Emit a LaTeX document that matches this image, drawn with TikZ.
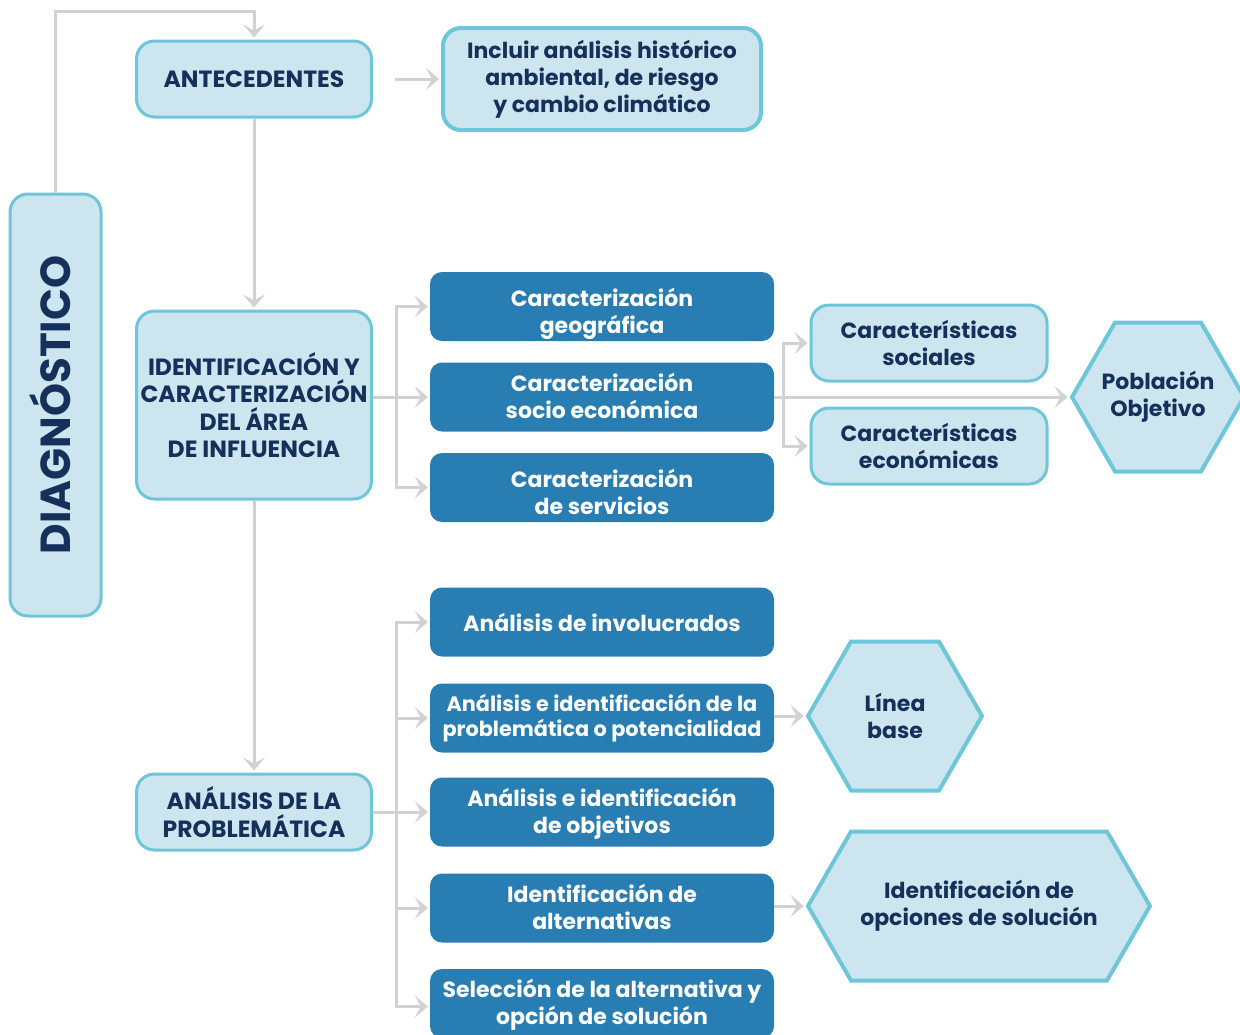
\documentclass[tikz,border=0pt]{standalone}
\usepackage{fontspec}
\setmainfont{Poppins}
\usetikzlibrary{arrows.meta,shapes.symbols}
\definecolor{navy}{HTML}{15305A}
\definecolor{darkfill}{HTML}{287DB3}
\definecolor{lightfill}{HTML}{CDE5EE}
\definecolor{edge}{HTML}{6EC6DA}
\definecolor{grayline}{HTML}{D2D2D4}
\newcommand{\boxfont}{\fontsize{22}{27}\selectfont\bfseries}
\newcommand{\capsfont}{\fontsize{23.5}{27.3}\selectfont\bfseries}
\tikzset{
  lightbox/.style={draw=edge, fill=lightfill, line width=3pt, rounded corners=18pt,
    text=navy, font=\boxfont, align=center, inner sep=0pt},
  darkbox/.style={fill=darkfill, rounded corners=12pt, text=white, font=\boxfont,
    align=center, minimum width=344pt, minimum height=69pt, inner sep=0pt},
  twolines/.style={text height=42pt, text depth=0pt},
  twolow/.style={text height=54pt, text depth=0pt},
  hexbox/.style={signal, signal to=east and west, signal pointer angle=120,
    draw=edge, fill=lightfill, line width=4pt, text=navy, font=\boxfont,
    align=center, minimum height=149pt, inner sep=0pt},
  hextext/.style={text=navy, font=\boxfont, align=center, inner sep=0pt},
  line/.style={draw=grayline, line width=3pt},
  conn/.style={line, -{Stealth[length=13pt,width=22pt,inset=6pt]}, shorten >=2pt},
}
\begin{document}
\begin{tikzpicture}[x=1pt,y=-1pt]
\useasboundingbox (0,0) rectangle (1240,1034);

% left column
\node[lightbox, rotate=90, minimum width=422pt, minimum height=91pt,
  text height=29pt, text depth=0pt,
  font=\fontsize{42}{48}\selectfont\bfseries] (diag) at (55.5,405) {DIAGNÓSTICO};
\node[lightbox, font=\capsfont, minimum width=235pt, minimum height=76pt] (antec) at (254,79)
  {ANTECEDENTES};
\node[lightbox, font=\capsfont, minimum width=235pt, minimum height=188pt] (ident) at (254,405)
  {IDENTIFICACIÓN Y\\CARACTERIZACIÓN\\DEL ÁREA\\DE INFLUENCIA};
\node[lightbox, font=\capsfont, minimum width=235pt, minimum height=76pt] (anal) at (254,812)
  {ANÁLISIS DE LA\\PROBLEMÁTICA};
\node[lightbox, line width=4pt, minimum width=318pt, minimum height=102pt] (incl) at (602,79)
  {Incluir análisis histórico\\ambiental, de riesgo\\y cambio climático};

% caracterizacion
\node[darkbox, twolow] (geo) at (602,306.5) {Caracterización\\geográfica};
\node[darkbox, twolines] (socio) at (602,397) {Caracterización\\socio económica};
\node[darkbox, twolow] (serv) at (602,487.5) {Caracterización\\de servicios};
\node[lightbox, minimum width=236pt, minimum height=76pt] (soc) at (929,343)
  {Características\\sociales};
\node[lightbox, minimum width=236pt, minimum height=76pt] (eco) at (929,446)
  {Características\\económicas};
\node[hexbox, minimum width=172pt,
  label={[hextext]center:Población\\Objetivo}] (pob) at (1158,397) {};

% analisis
\node[darkbox] (invol) at (602,622) {Análisis de involucrados};
\node[darkbox, font=\fontsize{20.8}{25}\selectfont\bfseries] (probl) at (602,718)
  {Análisis e identificación de la\\problemática o potencialidad};
\node[darkbox, twolines] (objet) at (602,812) {Análisis e identificación\\de objetivos};
\node[darkbox, twolines] (alter) at (602,908) {Identificación de\\alternativas};
\node[darkbox, twolines] (selec) at (602,1003.5) {Selección de la alternativa y\\opción de solución};
\node[hexbox, minimum width=174pt] (linea) at (895,716) {Línea\\base};
\node[hexbox, minimum width=342pt] (opci) at (979,906) {Identificación de\\opciones de solución};

% connectors
\draw[conn] (diag.east) -- ++(0,-181) -| (antec.north);
\draw[conn] (antec.south) -- (ident.north);
\draw[conn] (ident.south) -- (anal.north);
\draw[conn] ([xshift=22pt]antec.east) -- (incl.west);

\draw[line] (ident.east |- socio.west) -- ++(23,0) coordinate (s1);
\foreach \n in {geo,socio,serv}
  \draw[conn] (s1) |- (\n.west);

\draw[line] (socio.east) -- ++(9,0) coordinate (s2);
\foreach \n in {soc,eco}
  \draw[conn] (s2) |- (\n.west);
\draw[conn] (socio.east) -- (pob.west);

\draw[line] (anal.east) -- ++(23,0) coordinate (s3);
\foreach \n in {invol,probl,objet,alter}
  \draw[conn] (s3) |- (\n.west);
\draw[conn] (s3) |- ([yshift=-3pt]selec.west);

\draw[conn] (probl.east |- linea.west) -- (linea.west);
\draw[conn] (alter.east |- opci.west) -- (opci.west);
\end{tikzpicture}
\end{document}
